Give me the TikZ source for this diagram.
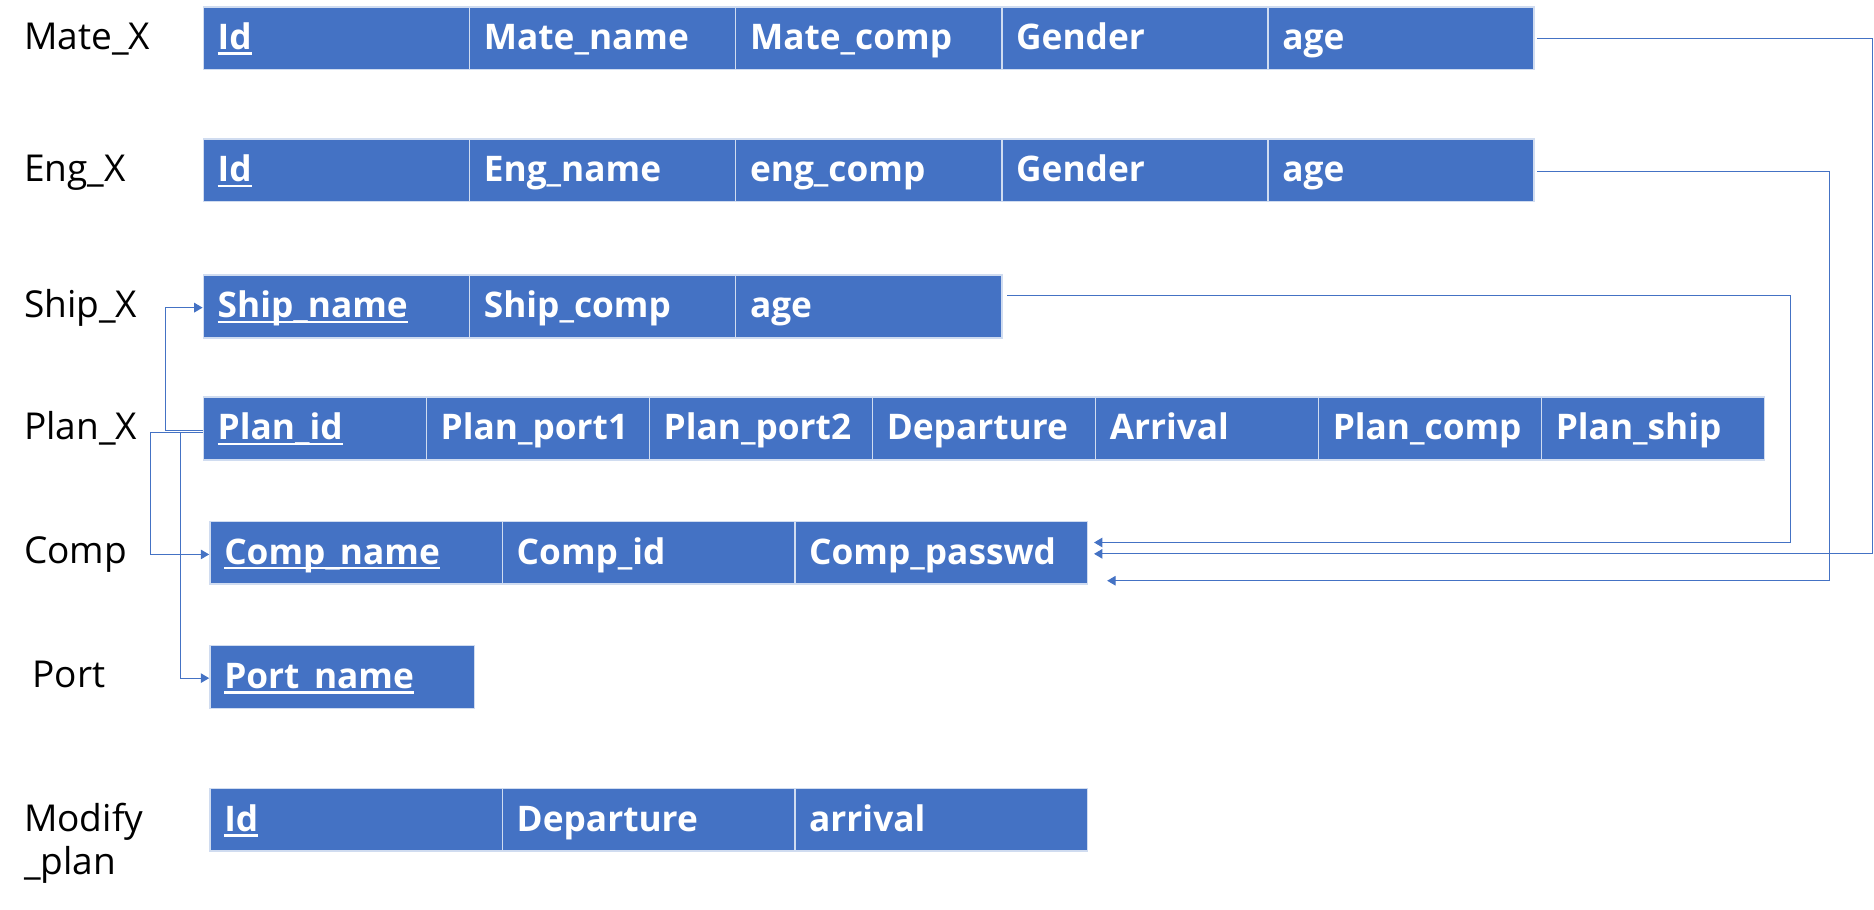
\documentclass[tikz,border=0pt]{standalone}
\usepackage{fontspec}
\setmainfont{Open Sans}
\usetikzlibrary{arrows.meta}
\definecolor{blueC}{RGB}{68,114,196}
\definecolor{cellB}{RGB}{208,220,240}
\newsavebox\ulbox
\newcommand\keyul[1]{\sbox\ulbox{#1}\rlap{\rule[-4.5pt]{\wd\ulbox}{2pt}}\usebox\ulbox}
\tikzset{
  cellbase/.style={rectangle, anchor=north west, fill=blueC, draw=cellB, line width=1.3pt,
    minimum height=52.5pt, inner xsep=12pt, inner ysep=0pt, text=white, align=left,
    font=\fontsize{29.5}{34}\selectfont\bfseries, text height=24.5pt, text depth=5.5pt},
  cellM/.style={cellbase, text width=198.7pt},
  cellP/.style={cellbase, text width=162.6pt},
  cellC/.style={cellbase, text width=220.7pt},
  cellT/.style={cellbase, text width=197.5pt},
  tlabel/.style={anchor=west, inner sep=0pt, font=\fontsize{31}{36.5}\selectfont, text height=25pt, text depth=5pt},
  conn/.style={draw=blueC, line width=0.9pt},
  connA/.style={conn, -{Triangle[length=7pt,width=8pt]}}
}
\begin{document}
\begin{tikzpicture}[x=1pt,y=-1pt]
\useasboundingbox (0,0) rectangle (1568,761.4);
% labels
\node[tlabel] (lmate) at (20,31) {Mate\_X};
\node[tlabel] (leng) at (20,141.5) {Eng\_X};
\node[tlabel] (lship) at (20,255.5) {Ship\_X};
\node[tlabel] (lplan) at (20,357.5) {Plan\_X};
\node[tlabel] (lcomp) at (20,461.5) {Comp};
\node[tlabel] (lport) at (27,565.5) {Port};
\node[anchor=north west, inner sep=0pt, align=left, font=\fontsize{31}{35.5}\selectfont] (lmod) at (20,672) {Modify\\\_plan};
% Mate_X
\node[cellM] (mid) at (169.5,5) {\keyul{Id}};
\node[cellM] (mname) at (392.2,5) {Mate\_name};
\node[cellM] (mcomp) at (614.9,5) {Mate\_comp};
\node[cellM] (mgen) at (837.6,5) {Gender};
\node[cellM] (mage) at (1060.3,5) {age};
% Eng_X
\node[cellM] (eid) at (169.5,115.5) {\keyul{Id}};
\node[cellM] (ename) at (392.2,115.5) {Eng\_name};
\node[cellM] (ecomp) at (614.9,115.5) {eng\_comp};
\node[cellM] (egen) at (837.6,115.5) {Gender};
\node[cellM] (eage) at (1060.3,115.5) {age};
% Ship_X
\node[cellM] (sname) at (169.5,229.5) {\keyul{Ship\_name}};
\node[cellM] (scomp) at (392.2,229.5) {Ship\_comp};
\node[cellM] (sage) at (614.9,229.5) {age};
% Plan_X
\node[cellP] (pid) at (169.5,331.5) {\keyul{Plan\_id}};
\node[cellP] (pp1) at (356.1,331.5) {Plan\_port1};
\node[cellP] (pp2) at (542.7,331.5) {Plan\_port2};
\node[cellP] (pdep) at (729.3,331.5) {Departure};
\node[cellP] (parr) at (915.9,331.5) {Arrival};
\node[cellP] (pcomp) at (1102.5,331.5) {Plan\_comp};
\node[cellP] (pship) at (1289.1,331.5) {Plan\_ship};
% Comp
\node[cellC] (cname) at (175,435.5) {\keyul{Comp\_name}};
\node[cellC] (cid) at (419.7,435.5) {Comp\_id};
\node[cellC] (cpass) at (664.4,435.5) {Comp\_passwd};
% Port
\node[cellT] (portn) at (175,539.5) {\keyul{Port\_name}};
% Modify_plan
\node[cellC] (mpid) at (175,659) {\keyul{Id}};
\node[cellC] (mpdep) at (419.7,659) {Departure};
\node[cellC] (mparr) at (664.4,659) {arrival};
% helper coordinates
\coordinate (rM) at (1567,0);
\coordinate (rE) at (1530.5,0);
\coordinate (rS) at (1498,0);
\coordinate (lS) at (138.5,0);
\coordinate (lC) at (126,0);
\coordinate (lP) at (151,0);
\coordinate (mA) at ([xshift=2pt]mage.east);
\coordinate (eA) at ([xshift=2pt,yshift=-1pt]eage.east);
\coordinate (sA) at ([xshift=4pt,yshift=9pt]sage.east);
\coordinate (cS) at ([xshift=5pt,yshift=8.5pt]cpass.east);
\coordinate (cM) at ([xshift=5pt,yshift=-1pt]cpass.east);
\coordinate (cE) at ([xshift=16pt,yshift=-23.5pt]cpass.east);
\coordinate (pA) at ([yshift=-1.5pt]pid.west);
\coordinate (pB) at ([yshift=-3.5pt]pid.west);
\coordinate (sN) at ([yshift=-1pt]sname.west);
\coordinate (cN) at ([yshift=-1.5pt]cname.west);
\coordinate (tN) at ([yshift=-1pt]portn.west);
% right connectors
\draw[connA] (mA) -- (mA -| rM) -- (cM -| rM) -- (cM);
\draw[connA] (eA) -- (eA -| rE) -- (cE -| rE) -- (cE);
\draw[connA] (sA) -- (sA -| rS) -- (cS -| rS) -- (cS);
% left connectors
\draw[connA] (pA) -- (pA -| lS) -- (sN -| lS) -- (sN);
\draw[connA] (pB) -- (pB -| lC) -- (cN -| lC) -- (cN);
\draw[connA] (pB -| lP) -- (tN -| lP) -- (tN);
\end{tikzpicture}
\end{document}
